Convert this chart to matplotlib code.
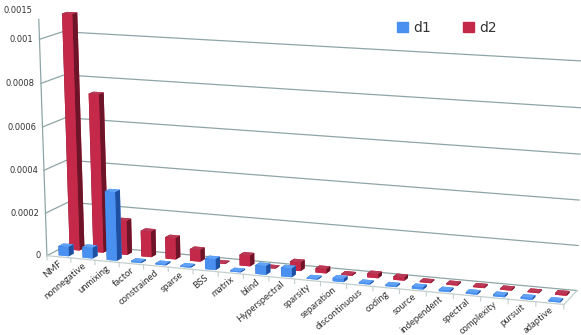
import numpy as np
import matplotlib
matplotlib.use('Agg')
import matplotlib.pyplot as plt
from matplotlib.patches import Patch

terms = ['NMF', 'nonnegative', 'unmixing', 'factor', 'constrained', 'sparse', 'BSS', 'matrix',
         'blind', 'Hyperspectral', 'sparsity', 'separation', 'discontinuous', 'coding', 'source',
         'independent', 'spectral', 'complexity', 'pursuit', 'adaptive']
d1 = [0.000044, 0.00005, 0.00032, 0.000006, 0.000006, 0.000005, 0.00005, 0.000005, 0.00004, 0.00004,
      0.000005, 0.000015, 0.000006, 0.000006, 0.00001, 0.000007, 0.000007, 0.000008, 0.000008, 0.000006]
d2 = [0.0011, 0.00074, 0.00016, 0.00012, 0.0001, 0.000055, 0.000003, 0.00005, 0.000003, 0.00004,
      0.00002, 0.000005, 0.000018, 0.000015, 0.000005, 0.000006, 0.000006, 0.000006, 0.000004, 0.000008]
grid_values = [0, 0.0002, 0.0004, 0.0006, 0.0008, 0.001]
y_tick_values = [0, 0.0002, 0.0004, 0.0006, 0.0008, 0.001, 0.00113]
y_tick_labels = ['0', '0.0002', '0.0004', '0.0006', '0.0008', '0.001', '0.0015']

W, H = 581, 335
n = len(terms)

# where the box corners sit in the picture (x, depth, value) -> pixel
corners = [((0, 0, 0), (47, 255)),
           ((0, 0, 1), (39.3, 39.5)),
           ((0, 1, 0), (69.5, 244.5)),
           ((0, 1, 1), (63, 31.5)),
           ((1, 1, 0), (577, 290)),
           ((1, 1, 1), (582, 61)),
           ((1, 0, 0), (564, 305))]

# fit the camera to the corners
rows = []
for (cx, cy, cz), (px, py) in corners:
    X = [cx, cy, cz, 1]
    u, v = px / W, py / H
    rows.append(X + [0, 0, 0, 0] + [-u * a for a in X])
    rows.append([0, 0, 0, 0] + X + [-v * a for a in X])
cam = np.linalg.svd(np.array(rows, dtype=float))[2][-1].reshape(3, 4)
cam = cam @ np.diag([1 / n, 1, 1000, 1])
if cam[2] @ np.array([n / 2, 0.5, 0, 1]) < 0:
    cam = -cam


def to_axes(x, y, z):
    p = cam @ np.array([x, y, z, 1.0])
    return p[0] / p[2], 1 - p[1] / p[2]


fig = plt.figure(figsize=(W / 100, H / 100), dpi=100)
ax = fig.add_axes([0, 0, 1, 1], projection='3d')

# swap mplot3d's own camera for the fitted one, in its 2d view limits
x0, y0, x1, y1 = ax.viewLim.extents
M = np.array([x0 * cam[2] + (x1 - x0) * cam[0],
              y1 * cam[2] - (y1 - y0) * cam[1],
              [0, 0, 0, -1],
              cam[2]])
ax.get_proj = lambda: M
ax.apply_aspect = lambda *args, **kwargs: None
ax.set_axis_off()

grid_col = '#8fa5a5'
floor_col = '#c3cfcf'

for val in grid_values:
    ax.plot([0, 0, n], [0, 1, 1], [val, val, val], color=grid_col, lw=0.9)
ax.plot([0, 0], [0, 0], [0, 0.00109], color=grid_col, lw=0.9)
ax.plot([0, n, n], [0, 0, 1], [0, 0, 0], color=floor_col, lw=0.9)
for k in range(n + 1):
    ax.plot([k, k], [0, 0], [0, -0.00002], color=floor_col, lw=0.8)

xpos = np.arange(n) + 0.4
# bar3d face order: bottom, top, front, back, left, right
blue_faces = ['#4a90f0', '#5fa2f7', '#4a90f0', '#4a90f0', '#1f4fa0', '#1f4fa0']
red_faces = ['#c4294a', '#b93a56', '#c4294a', '#c4294a', '#6e1428', '#6e1428']
ax.bar3d(xpos, np.full(n, 0.58), np.zeros(n), 0.42, 0.22, d2, color=red_faces * n, shade=False, linewidth=0)
ax.bar3d(xpos, np.full(n, 0.1), np.zeros(n), 0.42, 0.22, d1, color=blue_faces * n, shade=False, linewidth=0)

for val, lab in zip(y_tick_values, y_tick_labels):
    tx, ty = to_axes(0, 0, val)
    ax.text2D(tx - 6 / W, ty, lab, ha='right', va='center', fontsize=6, color='#333333',
              family='DejaVu Sans', transform=ax.transAxes)
for k, lab in enumerate(terms):
    tx, ty = to_axes(k + 0.5, 0, 0)
    ax.text2D(tx - 1 / W, ty - 2 / H, lab, ha='right', va='top', rotation=40, rotation_mode='anchor',
              fontsize=6.8, color='#333333', family='Lato', transform=ax.transAxes)

handles = [Patch(color='#4a90f0', label='d1'), Patch(color='#c4294a', label='d2')]
ax.legend(handles=handles, loc='center', bbox_to_anchor=(447 / W, 1 - 28 / H), ncol=2, frameon=False,
          fontsize=10, handlelength=0.8, handleheight=0.8, columnspacing=2.3, handletextpad=0.36,
          labelcolor='#333333')

fig.savefig('out.png', dpi=100)
